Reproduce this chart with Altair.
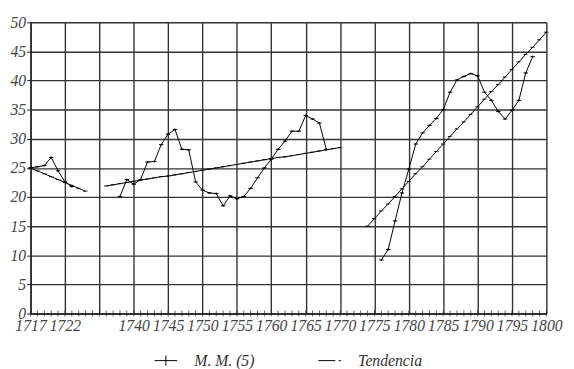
import json
import altair as alt
import pandas as pd

# x categories (position on the axis); the empty one marks the break in the series
categories = [str(y) for y in range(1717, 1727)] + [""] + [str(y) for y in range(1736, 1801)]

series_names = ["M. M. (5)", "Tendencia"]

# moving average, three stretches
mm_1_start = "1717"
mm_1 = [25.0, 25.2, 25.4, 26.8, 24.5, 22.6, 21.8]
mm_2_start = "1738"
mm_2 = [20.1, 23.0, 22.2, 23.0, 26.0, 26.1, 29.0, 30.8, 31.6, 28.2, 28.1, 22.6, 21.2,
        20.7, 20.6, 18.5, 20.2, 19.7, 20.1, 21.5, 23.3, 25.0, 26.5, 28.2, 29.6, 31.3,
        31.3, 34.0, 33.4, 32.7, 28.2]
mm_3_start = "1776"
mm_3 = [9.2, 11.0, 15.9, 20.7, 24.8, 29.1, 31.0, 32.3, 33.5, 35.0, 38.0, 40.1, 40.7,
        41.2, 40.8, 38.0, 36.6, 34.7, 33.4, 34.9, 36.6, 41.3, 44.1]

# trend, three stretches
trend_1_start = "1717"
trend_1 = [25.0, 24.5, 24.0, 23.5, 23.0, 22.5, 22.0, 21.5, 21.0]
trend_2_start = "1736"
trend_2 = [21.9, 22.1, 22.3, 22.5, 22.7, 22.9, 23.1, 23.3, 23.5, 23.6, 23.8, 24.0, 24.2,
           24.4, 24.6, 24.8, 25.0, 25.2, 25.4, 25.6, 25.8, 26.0, 26.2, 26.4, 26.6, 26.8,
           26.9, 27.1, 27.3, 27.5, 27.7, 27.9, 28.1, 28.3, 28.5]
trend_3_start = "1774"
trend_3 = [15.0, 16.3, 17.6, 18.8, 20.1, 21.4, 22.7, 24.0, 25.2, 26.5, 27.8, 29.1, 30.4,
           31.7, 32.9, 34.2, 35.5, 36.8, 38.1, 39.3, 40.6, 41.9, 43.2, 44.5, 45.7, 47.0,
           48.3]

y_ticks = [0, 5, 10, 15, 20, 25, 30, 35, 40, 45, 50]

rows = []


def add(name, seg, start, values):
    p0 = categories.index(start)
    for i, v in enumerate(values):
        rows.append({"serie": name, "seg": f"{name}-{seg}", "pos": p0 + i, "valor": v})


add(series_names[0], 1, mm_1_start, mm_1)
add(series_names[0], 2, mm_2_start, mm_2)
add(series_names[0], 3, mm_3_start, mm_3)
add(series_names[1], 1, trend_1_start, trend_1)
add(series_names[1], 2, trend_2_start, trend_2)
add(series_names[1], 3, trend_3_start, trend_3)
df = pd.DataFrame(rows)

ticks_df = pd.DataFrame({"pos": list(range(len(categories))), "valor": [0] * len(categories)})

n = len(categories)
label_expr = "datum.value % 5 === 0 ? " + json.dumps(categories) + "[datum.value] : ''"

FONT = "Liberation Serif"

x_enc = alt.X(
    "pos:Q",
    title=None,
    scale=alt.Scale(domain=[0, n - 1], nice=False, zero=False),
    axis=alt.Axis(
        values=list(range(n)),
        labelExpr=label_expr,
        grid=True,
        gridColor="#333",
        gridWidth=1.4,
        gridOpacity={"condition": {"test": "datum.value % 5 === 0", "value": 1}, "value": 0},
        ticks=False,
        domainColor="#222",
        domainWidth=1.4,
        labelFont=FONT,
        labelFontStyle="italic",
        labelFontSize=16,
        labelColor="#444",
        labelPadding=4,
        labelOverlap=False,
        labelFlush=False,
        labelBound=False,
    ),
)
y_enc = alt.Y(
    "valor:Q",
    title=None,
    scale=alt.Scale(domain=[0, 50], nice=False),
    axis=alt.Axis(
        values=y_ticks,
        grid=True,
        gridColor="#333",
        gridWidth=1.4,
        tickSize=4,
        tickColor="#222",
        domainColor="#222",
        domainWidth=1.4,
        labelFont=FONT,
        labelFontStyle="italic",
        labelFontSize=16,
        labelColor="#444",
        labelPadding=1,
        labelOverlap=False,
    ),
)

mm_path = "M-1,0H1M0,-0.45V0.45"
tr_path = "M-1,0H0.5M0.8,0H1"

lines = alt.Chart(df).mark_line(color="black", strokeWidth=1).encode(
    x=x_enc, y=y_enc, detail="seg:N"
)
points = alt.Chart(df).mark_point(filled=False, size=20, strokeWidth=1, color="black", opacity=1).encode(
    x=x_enc,
    y=y_enc,
    shape=alt.Shape(
        "serie:N",
        scale=alt.Scale(domain=series_names, range=[mm_path, tr_path]),
        legend=alt.Legend(
            title=None,
            orient="none",
            legendX=126,
            legendY=333,
            direction="horizontal",
            symbolSize=529,
            symbolStrokeWidth=1,
            symbolStrokeColor="black",
            labelFont=FONT,
            labelFontStyle="italic",
            labelFontSize=16,
            labelColor="#333",
            labelOffset=17,
            columnPadding=62,
            padding=0,
        ),
    ),
)
axis_ticks = alt.Chart(ticks_df).mark_tick(
    orient="vertical", size=6, thickness=1, color="#222"
).encode(x=x_enc, y=y_enc)

chart = (
    alt.layer(lines, points, axis_ticks)
    .properties(
        width=526,
        height=297,
        autosize=alt.AutoSizeParams(type="none"),
        padding={"left": 23, "top": 11, "right": 20, "bottom": 54},
    )
    .configure_view(stroke=None)
    .configure(background="white")
)

chart.save("out.html", embed_options={"renderer": "svg", "actions": False})
